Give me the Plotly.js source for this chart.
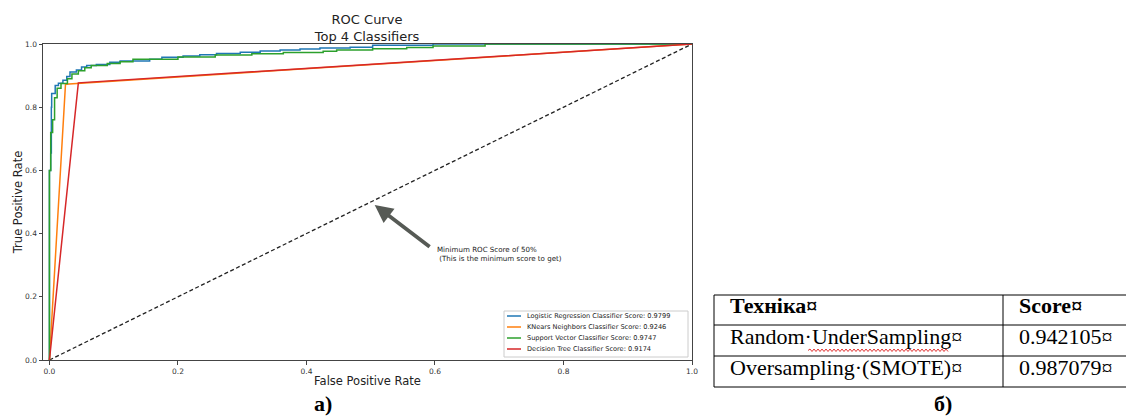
<!DOCTYPE html>
<html>
<head>
<meta charset="utf-8">
<script src="https://cdn.plot.ly/plotly-3.0.1.min.js"></script>
<style>html,body{margin:0;padding:0;background:#fff;}#chart{width:1126px;height:417px;}</style>
</head>
<body>
<div id="chart"></div>
<script>
// ---- ROC data ----
const fprLR  = [0, 0, 0.002, 0.003, 0.0035, 0.009, 0.014, 0.021, 0.027, 0.032, 0.042, 0.050, 0.058, 0.073, 0.094, 0.110, 0.156, 0.175, 0.208, 0.234, 0.260, 0.297, 0.328, 0.359, 0.390, 0.421, 0.468, 0.503, 0.597, 1.0];
const tprLR  = [0, 0.600, 0.655, 0.800, 0.843, 0.869, 0.876, 0.885, 0.897, 0.911, 0.918, 0.927, 0.932, 0.935, 0.942, 0.946, 0.952, 0.958, 0.962, 0.966, 0.970, 0.974, 0.978, 0.981, 0.984, 0.987, 0.990, 0.996, 1.0, 1.0];
const fprKNN = [0, 0.025, 1.0];
const tprKNN = [0, 0.873, 1.0];
const fprSVC = [0, 0, 0.002, 0.005, 0.008, 0.012, 0.018, 0.028, 0.035, 0.045, 0.055, 0.065, 0.090, 0.110, 0.130, 0.200, 0.258, 0.315, 0.364, 0.426, 0.447, 0.503, 0.556, 0.597, 0.678, 1.0];
const tprSVC = [0, 0.600, 0.720, 0.760, 0.830, 0.860, 0.875, 0.890, 0.905, 0.915, 0.925, 0.932, 0.938, 0.944, 0.952, 0.959, 0.965, 0.969, 0.973, 0.977, 0.981, 0.985, 0.989, 0.994, 1.0, 1.0];
const fprDT  = [0, 0.045, 1.0];
const tprDT  = [0, 0.877, 1.0];
const diagX  = [0, 1];
const diagY  = [0, 1];

const classifierNames  = ['Logistic Regression Classifier Score: ', 'KNears Neighbors Classifier Score: ', 'Support Vector Classifier Score: ', 'Decision Tree Classifier Score: '];
const classifierScores = ['0.9799', '0.9246', '0.9747', '0.9174'];
const classifierColors = ['#1f77b4', '#ff7f0e', '#2ca02c', '#d62728'];

const xTicks = [0, 0.2, 0.4, 0.6, 0.8, 1.0];
const yTicks = [0, 0.2, 0.4, 0.6, 0.8, 1.0];

// ---- Table data ----
const tableHeader = ['Техніка¤', 'Score¤'];
const techniques  = ['Random·UnderSampling¤', 'Oversampling·(SMOTE)¤'];
const tableScores = ['0.942105¤', '0.987079¤'];

const W = 1126, H = 417;
const px = v => v / W;
const py = v => 1 - v / H;

const series = [[fprLR, tprLR], [fprKNN, tprKNN], [fprSVC, tprSVC], [fprDT, tprDT]];
const traces = [{
  x: diagX, y: diagY, type: 'scatter', mode: 'lines', showlegend: false, hoverinfo: 'skip',
  line: {color: '#222', width: 1.3, dash: '4px,2.5px'}
}];
series.forEach((s, i) => {
  traces.push({
    x: s[0], y: s[1], type: 'scatter', mode: 'lines', showlegend: false,
    name: classifierNames[i] + classifierScores[i],
    line: {color: classifierColors[i], width: 1.5, shape: (i === 0 || i === 2) ? 'hv' : 'linear'}
  });
});

const shapes = [];
const annotations = [];

// legend (drawn manually to match the compact matplotlib legend)
shapes.push({
  type: 'rect', xref: 'paper', yref: 'paper',
  x0: px(504), x1: px(688), y0: py(357), y1: py(311),
  line: {color: '#cccccc', width: 1}, fillcolor: 'rgba(255,255,255,0.85)', layer: 'above'
});
classifierNames.forEach((n, i) => {
  const yy = 316 + i * 11;
  shapes.push({type: 'line', xref: 'paper', yref: 'paper', x0: px(507), x1: px(521), y0: py(yy), y1: py(yy),
    line: {color: classifierColors[i], width: 1.5}, layer: 'above'});
  annotations.push({xref: 'paper', yref: 'paper', x: px(525), y: py(yy), xanchor: 'left', yanchor: 'middle',
    text: n + classifierScores[i], showarrow: false, font: {family: 'DejaVu Sans', size: 6.6, color: '#222'}});
});

// ---- table (grid lines + cell texts built from the table arrays) ----
const tblLeft = 714, tblRight = 1126, tblDiv = 1003;
const rowEdges = [295, 325, 356, 387];
const rowMid = [305.5, 336.5, 367.5];
rowEdges.forEach(y => shapes.push({type: 'line', xref: 'paper', yref: 'paper',
  x0: px(tblLeft), x1: px(tblRight), y0: py(y), y1: py(y), line: {color: '#000', width: 1}}));
[tblLeft, tblDiv].forEach(x => shapes.push({type: 'line', xref: 'paper', yref: 'paper',
  x0: px(x), x1: px(x), y0: py(rowEdges[0]), y1: py(rowEdges[3]), line: {color: '#000', width: 1}}));
const colX = [728, 1017];
const tableFont = {family: 'Liberation Serif', size: 22, color: '#000'};
tableHeader.forEach((h, c) => annotations.push({xref: 'paper', yref: 'paper', x: px(colX[c]), y: py(rowMid[0]),
  xanchor: 'left', yanchor: 'middle', text: '<b>' + h + '</b>', showarrow: false, font: tableFont}));
techniques.forEach((t, r) => {
  annotations.push({xref: 'paper', yref: 'paper', x: px(colX[0]), y: py(rowMid[r + 1]),
    xanchor: 'left', yanchor: 'middle', text: t, showarrow: false, font: tableFont});
  annotations.push({xref: 'paper', yref: 'paper', x: px(colX[1]), y: py(rowMid[r + 1]),
    xanchor: 'left', yanchor: 'middle', text: tableScores[r], showarrow: false, font: tableFont});
});

// red squiggle (spell-check mark) under "UnderSampling"
let d = 'M' + px(808) + ',' + py(350.5);
for (let xx = 810, k = 0; xx <= 948; xx += 2, k++) {
  d += ' L' + px(xx) + ',' + py(k % 2 === 0 ? 349 : 351.5);
}
shapes.push({type: 'path', xref: 'paper', yref: 'paper', path: d, line: {color: '#e02020', width: 0.9}, layer: 'above'});

// arrow + note
annotations.push({x: 0.5, y: 0.5, xref: 'x', yref: 'y', ax: 0.594, ay: 0.355, axref: 'x', ayref: 'y',
  text: '', showarrow: true, arrowhead: 2, arrowsize: 0.95, arrowwidth: 3.8, arrowcolor: '#565a55', standoff: 5});
annotations.push({x: 0.6, y: 0.3, xref: 'x', yref: 'y', xanchor: 'left', yanchor: 'bottom', align: 'left',
  text: 'Minimum ROC Score of 50%<br> (This is the minimum score to get)', showarrow: false,
  font: {family: 'DejaVu Sans', size: 7.1, color: '#222'}});
// panel labels
annotations.push({xref: 'paper', yref: 'paper', x: px(323), y: py(403), text: '<b>а)</b>', showarrow: false,
  xanchor: 'center', yanchor: 'middle', font: {family: 'Liberation Serif', size: 22, color: '#000'}});
annotations.push({xref: 'paper', yref: 'paper', x: px(943), y: py(403), text: '<b>б)</b>', showarrow: false,
  xanchor: 'center', yanchor: 'middle', font: {family: 'Liberation Serif', size: 22, color: '#000'}});

const layout = {
  width: W, height: H,
  margin: {l: 0, r: 0, t: 0, b: 0},
  paper_bgcolor: '#fff', plot_bgcolor: '#fff',
  showlegend: false,
  font: {family: 'DejaVu Sans', color: '#222'},
  title: {text: 'ROC Curve<br>Top 4 Classifiers', x: px(367), xanchor: 'center', xref: 'paper',
    y: py(24), yanchor: 'top', yref: 'container', font: {family: 'DejaVu Sans', size: 13, color: '#222'}},
  xaxis: {
    domain: [px(43), px(692)], range: [-0.01, 1.0], tickvals: xTicks, ticktext: xTicks.map(v => v.toFixed(1)),
    showline: true, mirror: true, linecolor: '#444', linewidth: 1, showgrid: false, zeroline: false,
    ticks: 'outside', ticklen: 3.5, tickcolor: '#444', tickwidth: 1,
    tickfont: {family: 'DejaVu Sans', size: 7.5, color: '#333'},
    title: {text: 'False Positive Rate', standoff: 2, font: {family: 'DejaVu Sans', size: 11.5, color: '#222'}},
    automargin: false
  },
  yaxis: {
    domain: [py(360), py(44)], range: [0, 1.0], tickvals: yTicks, ticktext: yTicks.map(v => v.toFixed(1)),
    showline: true, mirror: true, linecolor: '#444', linewidth: 1, showgrid: false, zeroline: false,
    ticks: 'outside', ticklen: 3.5, tickcolor: '#444', tickwidth: 1,
    tickfont: {family: 'DejaVu Sans', size: 7.5, color: '#333'},
    title: {text: 'True Positive Rate', standoff: 0, font: {family: 'DejaVu Sans', size: 11.5, color: '#222'}},
    automargin: false
  },
  shapes: shapes,
  annotations: annotations
};

Plotly.newPlot('chart', traces, layout, {displayModeBar: false, staticPlot: true});
</script>
</body>
</html>
